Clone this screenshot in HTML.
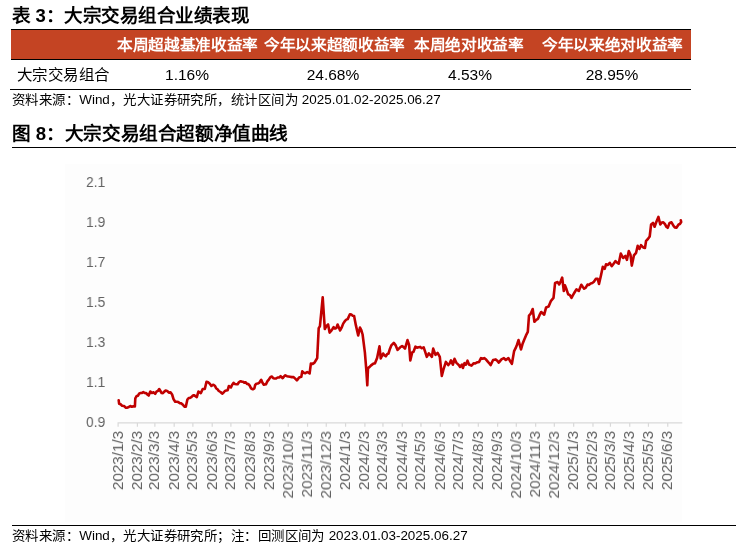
<!DOCTYPE html>
<html lang="zh-CN"><head><meta charset="utf-8">
<style>
html,body{margin:0;padding:0;background:#fff;}
body{width:744px;height:551px;position:relative;overflow:hidden;font-family:"Liberation Sans",sans-serif;color:#000;}
.a{position:absolute;white-space:nowrap;transform-origin:0 0;will-change:transform;}
.t1{left:11.9px;top:3.5px;font-size:18px;font-weight:bold;line-height:24px;transform:scaleX(1.027);}
.hdr{left:11px;top:29px;width:680px;height:29px;background:#C44423;border-top:1px solid #000;border-bottom:1px solid #000;}
.ht{top:29.5px;height:29px;line-height:29px;font-size:15px;font-weight:bold;color:#fff;transform:scaleX(1.045);}
.dt{top:64.5px;height:20px;line-height:20px;font-size:15px;color:#000;}
.rowline{left:10px;top:89px;width:681px;height:1px;background:#000;}
.src{font-size:13px;line-height:16px;color:#000;transform:scaleX(1.034);}
.num{font-size:15.5px;}
.t2{left:11.9px;top:122px;font-size:18px;font-weight:bold;line-height:24px;transform:scaleX(1.034);}
.l2{left:12px;top:146.8px;width:724px;height:1.3px;background:#000;}
.cbg{left:65px;top:164px;width:617px;height:358px;background:#FDFDFD;}
.l3{left:12px;top:525px;width:724px;height:1px;background:#000;}
.yl{position:absolute;left:86.3px;font-size:15.5px;line-height:16px;margin-top:-7.5px;color:#626262;transform:scaleX(0.89);transform-origin:0 0;will-change:transform;}
.xl{position:absolute;top:431px;writing-mode:vertical-rl;transform:rotate(180deg);font-size:15.2px;line-height:16px;width:16px;margin-left:-8px;color:#626262;will-change:transform;}
</style></head><body>
<div class="a t1">表 3：大宗交易组合业绩表现</div>
<div class="a hdr"></div>
<div class="a ht" style="left:116.6px;">本周超越基准收益率</div>
<div class="a ht" style="left:263.5px;">今年以来超额收益率</div>
<div class="a ht" style="left:414.3px;">本周绝对收益率</div>
<div class="a ht" style="left:541.6px;">今年以来绝对收益率</div>
<div class="a dt" style="left:17.1px;transform:scaleX(1.032)">大宗交易组合</div>
<div class="a dt" style="left:111.8px;width:150px;text-align:center;font-size:15.5px;">1.16%</div>
<div class="a dt" style="left:258px;width:150px;text-align:center;font-size:15.5px;">24.68%</div>
<div class="a dt" style="left:395.2px;width:150px;text-align:center;font-size:15.5px;">4.53%</div>
<div class="a dt" style="left:537px;width:150px;text-align:center;font-size:15.5px;">28.95%</div>
<div class="a rowline"></div>
<div class="a src" style="left:11.9px;top:91.5px;">资料来源：Wind，光大证券研究所，统计区间为 2025.01.02-2025.06.27</div>
<div class="a t2">图 8：大宗交易组合超额净值曲线</div>
<div class="a l2"></div>
<div class="a cbg"></div>
<div class="yl" style="top:181.0px">2.1</div>
<div class="yl" style="top:221.0px">1.9</div>
<div class="yl" style="top:261.0px">1.7</div>
<div class="yl" style="top:301.0px">1.5</div>
<div class="yl" style="top:341.0px">1.3</div>
<div class="yl" style="top:381.0px">1.1</div>
<div class="yl" style="top:421.0px">0.9</div>

<svg class="a" style="left:0;top:0" width="744" height="551" viewBox="0 0 744 551">
<path d="M117.5,422.8 H682.3 M118.10,422.8 V426.8 M137.42,422.8 V426.8 M154.87,422.8 V426.8 M174.19,422.8 V426.8 M192.88,422.8 V426.8 M212.20,422.8 V426.8 M230.90,422.8 V426.8 M250.22,422.8 V426.8 M269.54,422.8 V426.8 M288.23,422.8 V426.8 M307.55,422.8 V426.8 M326.25,422.8 V426.8 M345.57,422.8 V426.8 M364.89,422.8 V426.8 M382.96,422.8 V426.8 M402.28,422.8 V426.8 M420.98,422.8 V426.8 M440.29,422.8 V426.8 M458.99,422.8 V426.8 M478.31,422.8 V426.8 M497.63,422.8 V426.8 M516.32,422.8 V426.8 M535.64,422.8 V426.8 M554.34,422.8 V426.8 M573.66,422.8 V426.8 M592.98,422.8 V426.8 M610.43,422.8 V426.8 M629.75,422.8 V426.8 M648.44,422.8 V426.8 M667.76,422.8 V426.8" stroke="#D9D9D9" stroke-width="1.2" fill="none"/>
<path d="M118.7,400.3 L119.1,403.7 L120.6,404.3 L122.1,405.7 L124.0,406.0 L125.9,407.7 L127.4,407.7 L128.8,407.0 L130.3,406.0 L131.9,406.8 L133.4,406.3 L134.9,406.4 L135.3,398.3 L136.6,396.1 L137.9,395.7 L139.3,393.4 L140.6,393.0 L142.0,392.9 L143.3,392.1 L144.7,393.0 L146.0,393.0 L147.4,394.5 L148.7,395.5 L150.3,391.5 L151.9,393.0 L153.6,392.3 L155.2,393.9 L156.5,391.7 L157.9,390.9 L159.2,389.0 L161.6,393.0 L162.9,393.1 L164.3,391.6 L165.6,390.6 L167.2,391.0 L168.9,392.7 L170.5,392.3 L172.1,394.5 L173.6,399.3 L175.2,401.7 L176.8,401.8 L178.3,402.1 L179.9,403.3 L181.4,403.4 L182.9,404.7 L184.3,406.6 L185.8,406.8 L187.4,399.5 L188.7,398.0 L190.0,397.9 L191.3,397.2 L192.6,395.8 L193.9,395.2 L195.4,396.2 L196.8,397.1 L198.4,391.5 L200.8,393.1 L202.7,389.0 L204.8,389.0 L206.5,381.8 L208.1,382.3 L209.8,383.7 L211.4,386.0 L213.4,384.7 L214.8,385.7 L216.1,388.2 L217.5,389.3 L218.8,391.0 L220.5,392.0 L222.2,393.7 L223.6,392.5 L224.9,391.0 L226.2,390.6 L227.6,390.3 L228.9,386.0 L230.9,387.4 L232.2,384.7 L233.6,382.9 L234.9,384.0 L236.3,384.2 L237.6,384.3 L238.9,382.2 L240.3,381.2 L241.7,381.6 L243.0,381.8 L244.3,382.8 L245.7,382.3 L247.0,383.9 L248.4,384.1 L249.7,385.6 L251.1,388.3 L252.8,389.3 L254.4,388.3 L255.1,385.2 L256.4,383.7 L257.8,383.5 L259.1,382.9 L261.2,379.8 L262.5,382.8 L263.8,384.7 L265.9,384.3 L267.5,381.1 L269.0,379.3 L270.6,376.9 L271.9,376.5 L273.3,378.3 L274.6,378.5 L276.1,378.5 L277.6,377.5 L279.1,377.5 L280.6,376.2 L282.7,378.2 L284.0,376.4 L285.3,375.3 L286.9,376.2 L288.4,376.5 L290.0,376.8 L291.8,377.1 L293.6,377.1 L295.2,378.7 L296.9,380.4 L299.1,377.5 L301.3,376.8 L302.3,371.3 L303.9,372.9 L305.4,373.1 L307.2,372.0 L309.6,373.5 L310.9,363.5 L312.7,363.9 L314.5,362.6 L315.9,360.3 L317.2,358.1 L318.7,328.1 L319.9,326.3 L321.3,312.1 L322.7,297.3 L324.8,329.0 L326.5,325.9 L328.1,324.5 L329.6,332.6 L330.9,331.2 L332.3,329.3 L333.6,327.2 L335.0,328.6 L336.3,328.1 L337.6,324.5 L340.1,330.5 L341.6,327.7 L343.2,323.6 L344.8,321.2 L346.3,319.6 L347.7,319.1 L349.9,314.2 L351.3,314.6 L352.7,315.7 L354.1,316.0 L355.9,325.4 L358.2,335.4 L360.0,327.6 L361.3,330.1 L362.6,334.5 L364.9,352.6 L366.2,368.6 L367.3,385.3 L368.0,368.1 L369.4,367.1 L370.8,365.6 L372.1,364.6 L373.5,363.5 L374.9,363.5 L377.1,358.1 L379.5,346.3 L380.7,358.4 L383.1,353.5 L384.5,355.4 L385.8,356.3 L387.1,354.2 L388.5,353.5 L389.9,348.9 L391.3,345.4 L393.8,342.9 L395.7,345.4 L397.6,349.9 L400.2,347.3 L402.1,346.0 L403.6,347.1 L405.0,348.6 L407.5,340.1 L409.1,344.8 L410.3,360.4 L412.2,352.4 L413.5,351.8 L415.4,346.7 L417.0,347.7 L418.6,347.3 L420.2,346.9 L421.8,348.2 L423.7,347.3 L425.2,351.9 L426.8,356.8 L428.8,353.3 L430.4,355.1 L431.9,356.8 L433.2,348.6 L435.5,354.9 L437.6,352.8 L439.8,356.8 L441.8,375.9 L443.4,369.6 L445.9,361.9 L448.2,365.1 L449.6,363.5 L451.0,360.4 L452.9,364.7 L454.5,358.8 L456.3,362.6 L458.8,365.1 L460.1,367.0 L462.0,364.5 L462.9,368.0 L464.5,363.2 L465.8,364.7 L467.5,360.7 L469.0,364.5 L471.5,365.7 L473.8,363.2 L475.2,363.5 L476.6,362.6 L479.1,361.9 L481.0,358.1 L482.6,358.8 L484.2,358.1 L486.1,359.6 L488.0,361.9 L489.3,363.3 L490.6,365.1 L493.1,360.0 L495.7,359.4 L497.2,360.7 L498.8,362.6 L501.4,359.4 L503.9,358.1 L505.8,360.0 L508.4,358.1 L509.9,360.7 L511.9,363.8 L514.1,351.1 L515.6,348.2 L517.0,344.7 L518.5,340.1 L521.0,349.5 L522.5,344.1 L524.1,340.1 L526.0,335.4 L527.8,331.9 L529.0,315.6 L530.6,313.9 L532.7,309.0 L534.4,321.8 L536.2,319.8 L538.0,318.8 L539.6,314.9 L541.2,312.0 L542.7,313.3 L544.2,314.7 L546.1,307.4 L548.6,306.6 L551.0,300.8 L553.5,297.9 L555.1,282.9 L557.6,282.1 L559.2,284.5 L560.7,281.2 L562.2,277.6 L563.8,291.0 L564.9,285.3 L566.5,289.3 L568.2,294.3 L569.9,295.1 L571.5,297.9 L573.1,294.9 L574.8,292.0 L576.4,289.4 L578.8,291.0 L581.3,284.8 L582.7,286.8 L584.1,288.6 L585.6,287.8 L587.5,284.6 L589.1,284.9 L590.7,283.4 L592.3,283.0 L593.9,281.8 L595.8,278.9 L597.7,278.9 L599.0,284.0 L600.9,275.7 L602.8,266.8 L604.7,268.8 L606.0,264.3 L607.9,264.9 L609.8,262.8 L611.7,266.2 L613.6,263.7 L615.5,261.1 L617.1,262.6 L618.7,263.7 L620.8,253.5 L623.1,258.0 L625.4,256.0 L626.9,259.9 L628.8,251.0 L630.5,254.8 L631.8,265.6 L633.9,255.4 L636.1,252.8 L637.7,245.8 L639.4,249.0 L641.0,245.2 L643.2,247.4 L645.0,247.9 L646.1,240.8 L647.9,239.0 L649.7,236.5 L651.1,224.5 L653.0,222.9 L654.6,226.7 L656.2,222.3 L658.4,216.9 L660.3,224.5 L661.8,222.5 L663.3,222.3 L665.0,224.2 L666.4,226.8 L667.7,227.8 L669.6,222.9 L671.5,222.3 L673.7,226.1 L675.0,227.5 L676.4,227.8 L678.6,224.5 L679.9,224.0 L681.2,222.0 L680.8,220.2" stroke="#C00000" stroke-width="2.6" fill="none" stroke-linejoin="round" stroke-linecap="round"/>
</svg>
<div class="xl" style="left:117.60px">2023/1/3</div>
<div class="xl" style="left:136.92px">2023/2/3</div>
<div class="xl" style="left:154.37px">2023/3/3</div>
<div class="xl" style="left:173.69px">2023/4/3</div>
<div class="xl" style="left:192.38px">2023/5/3</div>
<div class="xl" style="left:211.70px">2023/6/3</div>
<div class="xl" style="left:230.40px">2023/7/3</div>
<div class="xl" style="left:249.72px">2023/8/3</div>
<div class="xl" style="left:269.04px">2023/9/3</div>
<div class="xl" style="left:287.73px">2023/10/3</div>
<div class="xl" style="left:307.05px">2023/11/3</div>
<div class="xl" style="left:325.75px">2023/12/3</div>
<div class="xl" style="left:345.07px">2024/1/3</div>
<div class="xl" style="left:364.39px">2024/2/3</div>
<div class="xl" style="left:382.46px">2024/3/3</div>
<div class="xl" style="left:401.78px">2024/4/3</div>
<div class="xl" style="left:420.48px">2024/5/3</div>
<div class="xl" style="left:439.79px">2024/6/3</div>
<div class="xl" style="left:458.49px">2024/7/3</div>
<div class="xl" style="left:477.81px">2024/8/3</div>
<div class="xl" style="left:497.13px">2024/9/3</div>
<div class="xl" style="left:515.82px">2024/10/3</div>
<div class="xl" style="left:535.14px">2024/11/3</div>
<div class="xl" style="left:553.84px">2024/12/3</div>
<div class="xl" style="left:573.16px">2025/1/3</div>
<div class="xl" style="left:592.48px">2025/2/3</div>
<div class="xl" style="left:609.93px">2025/3/3</div>
<div class="xl" style="left:629.25px">2025/4/3</div>
<div class="xl" style="left:647.94px">2025/5/3</div>
<div class="xl" style="left:667.26px">2025/6/3</div>
<div class="a l3"></div>
<div class="a src" style="left:11.9px;top:527.5px;">资料来源：Wind，光大证券研究所；注：回测区间为 2023.01.03-2025.06.27</div>
</body></html>
